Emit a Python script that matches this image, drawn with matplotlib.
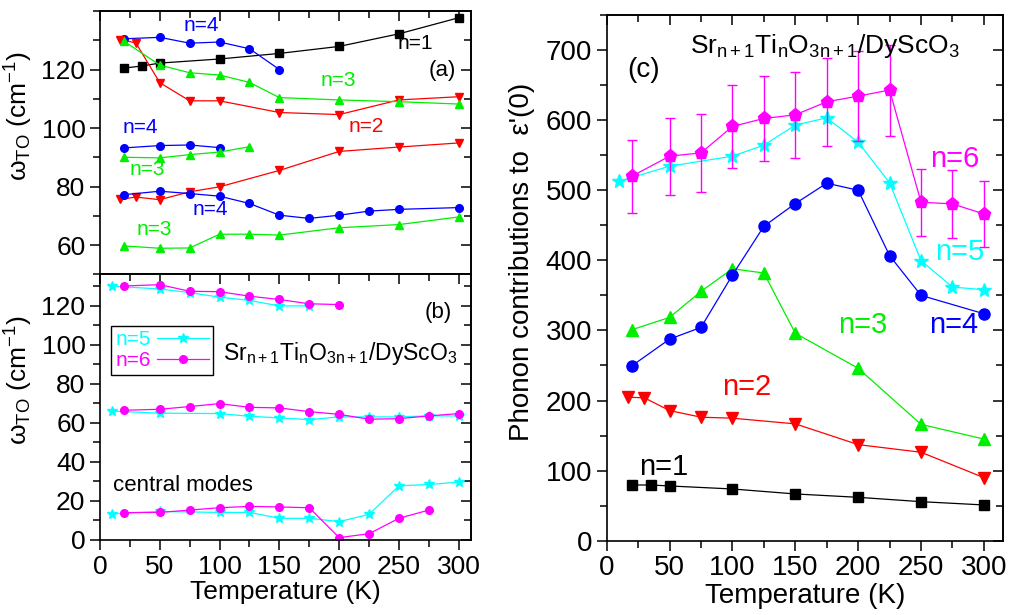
import numpy as np
import matplotlib
matplotlib.use("Agg")
import matplotlib.pyplot as plt

plt.rcParams['font.family'] = ['Liberation Sans', 'DejaVu Sans']
plt.rcParams['mathtext.fontset'] = 'custom'
plt.rcParams['mathtext.rm'] = 'Liberation Sans'
plt.rcParams['mathtext.it'] = 'Liberation Sans:italic'
plt.rcParams['axes.linewidth'] = 1.2

GREEN = '#00EE00'

# ---------------- panel (a) data ----------------
a_n1_T = [20, 35, 50, 100, 150, 200, 250, 300]
a_n1_w = [120.5, 121.2, 122.2, 123.6, 125.5, 127.9, 132.2, 137.7]

a_n4_hi_T = [20, 50, 75, 100, 125, 150]
a_n4_hi_w = [130.5, 131.0, 129.0, 129.4, 127.1, 120.0]

a_n2_hi_T = [17, 30, 50, 75, 100, 150, 200, 250, 300]
a_n2_hi_w = [130.2, 129.1, 115.5, 109.3, 109.3, 105.3, 104.6, 109.6, 110.7]

a_n3_hi_T = [20, 50, 75, 100, 125, 150, 200, 250, 300]
a_n3_hi_w = [129.7, 121.5, 118.9, 118.1, 115.6, 110.4, 109.6, 109.0, 108.2]

a_n4_mid_T = [20, 50, 75, 100]
a_n4_mid_w = [93.2, 94.0, 94.2, 93.3]

a_n3_mid_T = [20, 50, 75, 100, 125]
a_n3_mid_w = [90.0, 89.8, 90.9, 91.8, 93.6]

a_n2_lo_T = [17, 30, 50, 75, 100, 150, 200, 250, 300]
a_n2_lo_w = [75.6, 76.4, 75.5, 78.2, 79.9, 85.5, 92.0, 93.5, 94.9]

a_n4_lo_T = [20, 50, 75, 100, 125, 150, 175, 200, 225, 250, 300]
a_n4_lo_w = [77.2, 78.4, 77.6, 76.7, 74.2, 70.2, 69.1, 70.2, 71.6, 72.2, 72.8]

a_n3_lo_T = [20, 50, 75, 100, 125, 150, 200, 250, 300]
a_n3_lo_w = [59.7, 58.9, 59.0, 63.7, 63.7, 63.4, 65.9, 67.0, 69.6]

# ---------------- panel (b) data ----------------
b_n5_hi_T = [10, 50, 75, 100, 125, 150, 175]
b_n5_hi_w = [129.9, 128.5, 126.6, 124.3, 122.6, 119.8, 119.8]
b_n6_hi_T = [20, 50, 75, 100, 125, 150, 175, 200]
b_n6_hi_w = [130.0, 130.7, 127.3, 127.1, 124.8, 123.1, 120.9, 120.5]

b_n5_mid_T = [10, 50, 100, 125, 150, 175, 200, 225, 250, 275, 300]
b_n5_mid_w = [66.0, 64.9, 64.7, 63.3, 62.5, 61.6, 63.0, 63.0, 63.0, 63.5, 63.5]
b_n6_mid_T = [20, 50, 75, 100, 125, 150, 175, 200, 225, 250, 275, 300]
b_n6_mid_w = [66.4, 66.9, 68.3, 69.8, 67.9, 67.6, 65.7, 64.3, 61.8, 62.1, 63.5, 64.7]

b_n5_cm_T = [10, 50, 100, 125, 150, 175, 200, 225, 250, 275, 300]
b_n5_cm_w = [13.4, 14.6, 14.1, 14.1, 11.1, 11.1, 9.4, 13.1, 27.7, 28.4, 29.6]
b_n6_cm_T = [20, 50, 75, 100, 125, 150, 175, 200, 225, 250, 275]
b_n6_cm_w = [14.0, 14.1, 15.3, 16.5, 17.2, 16.9, 16.5, 1.2, 3.2, 11.1, 15.3]

# ---------------- panel (c) data ----------------
c_n1_T = [20, 35, 50, 100, 150, 200, 250, 300]
c_n1_v = [79.5, 79.5, 78.1, 73.8, 66.7, 61.9, 55.7, 51]

c_n2_T = [17, 30, 50, 75, 100, 150, 200, 250, 300]
c_n2_v = [204.8, 203.8, 185.7, 176.2, 174.8, 166.7, 137.1, 126.2, 90]

c_n3_T = [20, 50, 75, 100, 125, 150, 200, 250, 300]
c_n3_v = [301, 318.6, 355.7, 388, 381.9, 296, 246, 166, 145]

c_n4_T = [20, 50, 75, 100, 125, 150, 175, 200, 225, 250, 300]
c_n4_v = [249.5, 287.6, 304.3, 379, 448.6, 481, 510, 500, 406.7, 350, 323.8]

c_n5_T = [10, 50, 100, 125, 150, 175, 200, 225, 250, 275, 300]
c_n5_v = [512.9, 534.3, 548.6, 564.3, 592.9, 603.3, 568.6, 510.5, 399.5, 361.9, 358.1]

c_n6_T = [20, 50, 75, 100, 125, 150, 175, 200, 225, 250, 275, 300]
c_n6_v = [520, 548.6, 553.3, 591, 602.4, 607.6, 626.2, 634.3, 642.9, 482.9, 480.5, 466.2]
c_n6_err = [52, 55, 56, 59, 60, 61, 63, 64, 65, 48, 48, 47]

formula = (r'Sr$_{\mathregular{n+1}}$Ti$_{\mathregular{n}}$'
           r'O$_{\mathregular{3n+1}}$/DyScO$_{\mathregular{3}}$')

fig = plt.figure(figsize=(10.09, 6.15), dpi=100)
ax_a = fig.add_axes([0.0991, 0.554, 0.3674, 0.4281])
ax_b = fig.add_axes([0.0991, 0.122, 0.3674, 0.432])
ax_c = fig.add_axes([0.6013, 0.1208, 0.3925, 0.8548])


def style_axis(ax, xmaj, xmin, ymaj, ymin, size, xlabels=True):
    ax.set_xticks(np.arange(0, 301, xmaj))
    ax.set_xticks(np.arange(0, 301, xmin), minor=True)
    ax.yaxis.set_major_locator(matplotlib.ticker.MultipleLocator(ymaj))
    ax.yaxis.set_minor_locator(matplotlib.ticker.MultipleLocator(ymin))
    ax.tick_params(which='major', direction='out', length=7, width=1.1, labelsize=size)
    ax.tick_params(which='minor', direction='out', length=5, width=1.1)
    if not xlabels:
        ax.tick_params(axis='x', labelbottom=False)
    # top and right ticks point inward
    top = ax.secondary_xaxis('top')
    top.set_xticks(np.arange(0, 301, xmaj))
    top.set_xticks(np.arange(0, 301, xmin), minor=True)
    top.tick_params(which='major', direction='in', length=7, width=1.1, labeltop=False)
    top.tick_params(which='minor', direction='in', length=5, width=1.1)
    right = ax.secondary_yaxis('right')
    right.yaxis.set_major_locator(matplotlib.ticker.MultipleLocator(ymaj))
    right.yaxis.set_minor_locator(matplotlib.ticker.MultipleLocator(ymin))
    right.tick_params(which='major', direction='in', length=7, width=1.1, labelright=False)
    right.tick_params(which='minor', direction='in', length=5, width=1.1)


# ---------------- (a) ----------------
ms_a = 5.5
lw = 0.9
ax_a.plot(a_n1_T, a_n1_w, 's-', color='black', ms=ms_a, lw=lw)
ax_a.plot(a_n4_hi_T, a_n4_hi_w, 'o-', color='blue', ms=ms_a, lw=lw)
ax_a.plot(a_n2_hi_T, a_n2_hi_w, 'v-', color='red', ms=ms_a + 0.5, lw=lw)
ax_a.plot(a_n3_hi_T, a_n3_hi_w, '^-', color=GREEN, ms=ms_a + 0.5, lw=lw)
ax_a.plot(a_n4_mid_T, a_n4_mid_w, 'o-', color='blue', ms=ms_a, lw=lw)
ax_a.plot(a_n3_mid_T, a_n3_mid_w, '^-', color=GREEN, ms=ms_a + 0.5, lw=lw)
ax_a.plot(a_n2_lo_T, a_n2_lo_w, 'v-', color='red', ms=ms_a + 0.5, lw=lw)
ax_a.plot(a_n4_lo_T, a_n4_lo_w, 'o-', color='blue', ms=ms_a, lw=lw)
ax_a.plot(a_n3_lo_T, a_n3_lo_w, '^-', color=GREEN, ms=ms_a + 0.5, lw=lw)
ax_a.set_xlim(0, 310)
ax_a.set_ylim(50, 140)
style_axis(ax_a, 50, 25, 20, 10, 19, xlabels=False)
ax_a.set_yticks([60, 80, 100, 120])

fs_n = 15
ax_a.text(85, 135.0, 'n=4', color='blue', fontsize=fs_n, ha='center', va='center')
ax_a.text(264, 129.0, 'n=1', color='black', fontsize=fs_n, ha='center', va='center')
ax_a.text(286, 119.8, '(a)', color='black', fontsize=16, ha='center', va='center')
ax_a.text(199, 116.4, 'n=3', color=GREEN, fontsize=fs_n, ha='center', va='center')
ax_a.text(223, 100.5, 'n=2', color='red', fontsize=fs_n, ha='center', va='center')
ax_a.text(34, 100.1, 'n=4', color='blue', fontsize=fs_n, ha='center', va='center')
ax_a.text(39.6, 85.8, 'n=3', color=GREEN, fontsize=fs_n, ha='center', va='center')
ax_a.text(92, 72.2, 'n=4', color='blue', fontsize=fs_n, ha='center', va='center')
ax_a.text(45.6, 65.4, 'n=3', color=GREEN, fontsize=fs_n, ha='center', va='center')

ylab = r'$\mathregular{\omega_{TO}}$ (cm$^{\mathregular{-1}}$)'
ax_a.set_ylabel(ylab, fontsize=19)
ax_a.yaxis.set_label_coords(-0.175, 0.6)

# ---------------- (b) ----------------
ms_b = 5.5
ax_b.plot(b_n5_hi_T, b_n5_hi_w, '*-', color='cyan', ms=ms_b + 1.5, lw=lw, label='n=5')
ax_b.plot(b_n6_hi_T, b_n6_hi_w, 'o-', color='magenta', ms=ms_b, lw=lw, label='n=6')
ax_b.plot(b_n5_mid_T, b_n5_mid_w, '*-', color='cyan', ms=ms_b + 1.5, lw=lw)
ax_b.plot(b_n6_mid_T, b_n6_mid_w, 'o-', color='magenta', ms=ms_b, lw=lw)
ax_b.plot(b_n5_cm_T, b_n5_cm_w, '*-', color='cyan', ms=ms_b + 1.5, lw=lw)
ax_b.plot(b_n6_cm_T, b_n6_cm_w, 'o-', color='magenta', ms=ms_b, lw=lw)
ax_b.set_xlim(0, 310)
ax_b.set_ylim(0, 136)
style_axis(ax_b, 50, 25, 20, 10, 19)
ax_b.set_xlabel('Temperature (K)', fontsize=19, labelpad=1)
ax_b.set_ylabel(ylab, fontsize=19)
ax_b.yaxis.set_label_coords(-0.175, 0.6)

ax_b.text(283, 116.4, '(b)', fontsize=16, ha='center', va='center')
ax_b.text(10.8, 28.1, 'central modes', fontsize=16, ha='left', va='center')
ax_b.text(0.963, 0.677, formula, fontsize=16.5, ha='right', va='baseline',
          transform=ax_b.transAxes)
leg = ax_b.legend(loc='upper left', bbox_to_anchor=(0.03, 0.805), borderaxespad=0,
                  markerfirst=False, fontsize=15, fancybox=False, framealpha=1,
                  edgecolor='black', handlelength=2.5, handletextpad=0.3,
                  labelspacing=0.1, borderpad=0.2)
for txt, c in zip(leg.get_texts(), ['cyan', 'magenta']):
    txt.set_color(c)

# ---------------- (c) ----------------
ax_c.plot(c_n1_T, c_n1_v, 's-', color='black', ms=7.5, lw=lw)
ax_c.plot(c_n2_T, c_n2_v, 'v-', color='red', ms=8.5, lw=lw)
ax_c.plot(c_n3_T, c_n3_v, '^-', color=GREEN, ms=8.5, lw=lw)
ax_c.plot(c_n4_T, c_n4_v, 'o-', color='blue', ms=8, lw=lw)
ax_c.plot(c_n5_T, c_n5_v, '*-', color='cyan', ms=10, lw=lw)
ax_c.errorbar(c_n6_T, c_n6_v, yerr=c_n6_err, fmt='p-', color='magenta', ms=9.5,
              lw=lw, elinewidth=1, capsize=3.5, capthick=1)
ax_c.set_xlim(0, 315)
ax_c.set_ylim(0, 750)
style_axis(ax_c, 50, 25, 100, 50, 20)
ax_c.set_xlabel('Temperature (K)', fontsize=20, labelpad=1)
ax_c.set_ylabel("Phonon contributions to  \u03b5'(0)", fontsize=20)
ax_c.yaxis.set_label_coords(-0.18, 0.53)

fs_c = 21
ax_c.text(45.6, 105, 'n=1', color='black', fontsize=fs_c, ha='center', va='center')
ax_c.text(111.5, 219.6, 'n=2', color='red', fontsize=fs_c, ha='center', va='center')
ax_c.text(203.8, 308, 'n=3', color=GREEN, fontsize=fs_c, ha='center', va='center')
ax_c.text(275.7, 308, 'n=4', color='blue', fontsize=fs_c, ha='center', va='center')
ax_c.text(281, 412.4, 'n=5', color='cyan', fontsize=fs_c, ha='center', va='center')
ax_c.text(277, 545, 'n=6', color='magenta', fontsize=fs_c, ha='center', va='center')
ax_c.text(29.7, 672, '(c)', fontsize=20, ha='center', va='center')
ax_c.text(0.892, 0.927, formula, fontsize=19, ha='right', va='baseline',
          transform=ax_c.transAxes)

plt.savefig('out.png', dpi=100)
